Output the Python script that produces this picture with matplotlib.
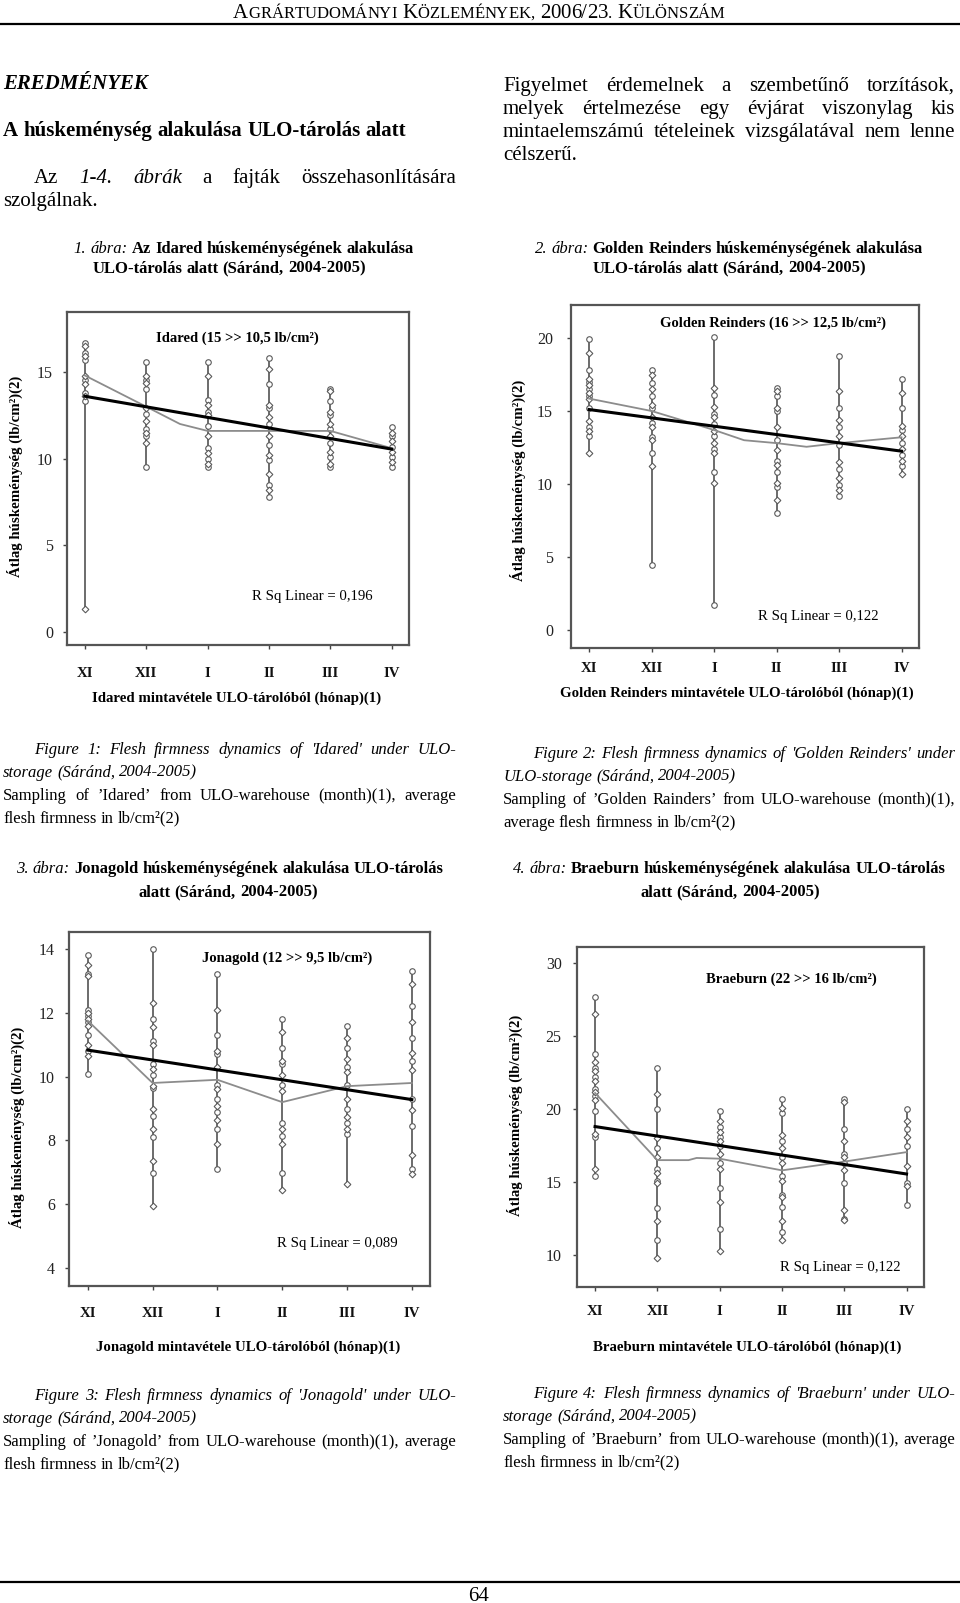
import matplotlib
matplotlib.use('Agg')
import matplotlib.pyplot as plt

W, H = 960, 1603
SERIF = 'Liberation Serif'
plt.rcParams['font.family'] = [SERIF, 'DejaVu Serif']

months = ['XI', 'XII', 'I', 'II', 'III', 'IV']

# Idared
idared_pts = [
    [16.7, 16.5, 16.1, 15.9, 15.7, 14.75, 14.55, 14.3, 13.8, 13.6, 13.3, 1.35],
    [15.6, 14.75, 14.55, 14.35, 14.0, 12.9, 12.6, 12.2, 11.7, 11.5, 11.3, 10.9, 9.5],
    [15.6, 14.75, 13.4, 13.1, 12.7, 12.5, 11.9, 11.3, 10.6, 10.3, 10.0, 9.7, 9.5],
    [15.8, 15.2, 14.3, 13.1, 12.9, 12.4, 12.0, 11.3, 10.8, 10.2, 9.9, 9.1, 8.5, 8.2, 7.8],
    [14.0, 13.9, 13.3, 12.7, 12.5, 12.0, 11.7, 11.3, 10.9, 10.4, 10.1, 9.7, 9.5],
    [11.85, 11.5, 11.3, 11.0, 10.7, 10.4, 10.1, 9.8, 9.5],
]
idared_trend = [13.6, 10.55]
idared_gray_x = [0, 1, 1.55, 2, 3, 4, 5]
idared_gray_y = [14.8, 13.0, 12.0, 11.6, 11.6, 11.6, 10.6]

# Golden Reinders
golden_pts = [
    [19.9, 19.0, 17.8, 17.2, 17.0, 16.8, 16.5, 16.2, 16.0, 15.8, 15.2, 14.3, 13.9, 13.6, 13.3, 12.1],
    [17.8, 17.5, 16.9, 16.5, 16.0, 15.4, 15.2, 14.6, 14.2, 13.9, 13.2, 13.0, 12.1, 11.2, 4.45],
    [20.1, 16.6, 16.1, 15.3, 14.8, 14.6, 14.1, 13.6, 13.3, 12.8, 12.4, 12.1, 10.8, 10.1, 1.7],
    [16.6, 16.4, 16.0, 15.2, 15.0, 13.9, 13.0, 12.3, 11.6, 11.3, 10.8, 10.1, 9.8, 8.9, 8.0],
    [18.8, 16.4, 15.2, 14.4, 13.9, 13.3, 12.7, 11.5, 11.0, 10.4, 9.9, 9.6, 9.2],
    [17.2, 16.2, 15.2, 14.0, 13.7, 13.3, 12.8, 12.4, 12.0, 11.6, 11.2, 10.7],
]
golden_trend = [15.1, 12.25]
golden_gray_x = [0, 1, 2, 2.48, 3, 3.48, 4, 5]
golden_gray_y = [15.85, 15.0, 13.7, 13.0, 12.8, 12.55, 12.8, 13.2]

# Jonagold
jona_pts = [
    [13.8, 13.5, 13.2, 13.15, 12.1, 12.0, 11.9, 11.8, 11.7, 11.6, 11.3, 11.0, 10.8, 10.65, 10.08],
    [14.0, 12.3, 11.8, 11.55, 11.1, 11.0, 10.4, 10.25, 10.05, 9.7, 9.65, 9.0, 8.76, 8.35, 8.1, 7.35, 6.97, 5.95],
    [13.2, 12.1, 11.3, 10.8, 10.7, 10.3, 9.75, 9.6, 9.3, 9.07, 8.9, 8.63, 8.37, 7.9, 7.1],
    [11.8, 11.4, 10.9, 10.5, 10.4, 10.05, 9.75, 9.55, 8.55, 8.35, 8.15, 7.9, 6.97, 6.46],
    [11.6, 11.2, 10.9, 10.55, 10.3, 10.15, 9.75, 9.3, 9.0, 8.75, 8.55, 8.35, 8.2, 6.65],
    [13.3, 12.9, 12.2, 11.7, 11.2, 10.75, 10.5, 10.2, 9.3, 8.95, 8.45, 7.55, 7.1, 6.95],
]
jona_trend = [10.83, 9.28]
jona_gray_x = [0, 1, 2, 3, 4, 5]
jona_gray_y = [11.75, 9.8, 9.9, 9.2, 9.7, 9.8]

# Braeburn
brae_pts = [
    [27.7, 26.5, 23.8, 23.2, 22.8, 22.6, 22.2, 21.9, 21.4, 21.2, 20.9, 20.6, 19.9, 18.3, 18.1, 15.9, 15.4],
    [22.8, 21.0, 20.0, 18.0, 17.3, 16.7, 15.9, 15.6, 15.1, 14.9, 13.2, 12.3, 11.0, 9.8],
    [19.9, 19.2, 18.8, 18.4, 18.1, 17.8, 17.5, 16.9, 16.3, 15.9, 14.6, 13.6, 11.8, 10.3],
    [20.7, 20.1, 19.7, 18.2, 17.8, 17.3, 16.7, 16.3, 15.4, 15.1, 14.1, 14.0, 13.3, 12.3, 11.6, 11.0],
    [20.7, 20.5, 18.6, 17.8, 16.9, 16.7, 16.3, 15.8, 14.9, 13.1, 12.5, 12.4],
    [20.0, 19.2, 18.6, 18.1, 17.5, 16.1, 14.9, 14.7, 13.4],
]
brae_trend = [18.8, 15.55]
brae_gray_x = [0, 1, 1.5, 1.63, 2, 3, 4, 5]
brae_gray_y = [21.1, 16.5, 16.5, 16.65, 16.6, 15.8, 16.4, 17.05]

fig = plt.figure(figsize=(W / 100, H / 100), dpi=100)
fig.patch.set_facecolor('white')
renderer = fig.canvas.get_renderer()


def kw(style, size):
    return dict(family=[SERIF, 'DejaVu Serif'], fontsize=size,
                fontstyle='italic' if 'i' in style else 'normal',
                fontweight='bold' if 'b' in style else 'normal', color='black')


def text_w(s, k):
    t = fig.text(0, 0, s, **k)
    w = t.get_window_extent(renderer).width
    t.remove()
    return w


def simple(s, style='r', size=12):
    return [[(w, style, size)] for w in s.split(' ')]


def draw_line(words, y, x0, x1=None, align='left'):
    size0 = words[0][0][2]
    widths = [[text_w(t, kw(st, z)) for t, st, z in w] for w in words]
    totals = [sum(ws) for ws in widths]
    n = len(words)
    if align == 'justify' and n > 1:
        gap = (x1 - x0 - sum(totals)) / (n - 1)
    else:
        gap = 0.25 * size0 * 100 / 72
    full = sum(totals) + gap * (n - 1)
    x = x0 - full / 2 if align == 'center' else x0
    base = y + 0.28 * size0 * 100 / 72
    for w, ws in zip(words, widths):
        for (t, st, z), wd in zip(w, ws):
            fig.text(x / W, 1 - base / H, t, ha='left', va='baseline', **kw(st, z))
            x += wd
        x += gap


def hline(y, x0=0, x1=W, lw=1.6):
    fig.add_artist(plt.Line2D([x0 / W, x1 / W], [1 - y / H, 1 - y / H], color='black', lw=lw))


# header in small caps
def smallcaps(word, big=15, small=12):
    segs = []
    for i, ch in enumerate(word):
        if (ch.isalpha() and i > 0) or ch in ',.':
            segs.append((ch, 'r', small))
        else:
            segs.append((ch, 'r', big))
    return segs


header = 'AGRÁRTUDOMÁNYI KÖZLEMÉNYEK, 2006/23. KÜLÖNSZÁM'
draw_line([smallcaps(w) for w in header.split(' ')], 12, 479, align='center')
hline(24)

# body text
draw_line(simple('EREDMÉNYEK', 'bi', 15), 83, 3)
draw_line(simple('A húskeménység alakulása ULO-tárolás alatt', 'b', 15), 130, 3)
draw_line([[('Az', 'r', 15)], [('1-4.', 'i', 15)], [('ábrák', 'i', 15)]] +
          simple('a fajták összehasonlítására', 'r', 15), 177, 34, 456, 'justify')
draw_line(simple('szolgálnak.', 'r', 15), 200, 3)

right_par = ['Figyelmet érdemelnek a szembetűnő torzítások,',
             'melyek értelmezése egy évjárat viszonylag kis',
             'mintaelemszámú tételeinek vizsgálatával nem lenne']
for i, s in enumerate(right_par):
    draw_line(simple(s, 'r', 15), 85 + 23 * i, 503, 955, 'justify')
draw_line(simple('célszerű.', 'r', 15), 154, 503)


def abra(num, bold_text, y, cx):
    words = [[(num, 'i', 12)], [('ábra:', 'i', 12)]] + simple(bold_text, 'b', 12)
    draw_line(words, y, cx, align='center')


abra('1.', 'Az Idared húskeménységének alakulása', 248, 244)
draw_line(simple('ULO-tárolás alatt (Sáránd, 2004-2005)', 'b', 12), 268, 229, align='center')
abra('2.', 'Golden Reinders húskeménységének alakulása', 248, 729)
draw_line(simple('ULO-tárolás alatt (Sáránd, 2004-2005)', 'b', 12), 268, 729, align='center')


def eng_caption(lines, y0, x0, x1, indent):
    l1, l2, l3, l4 = lines
    draw_line(simple(l1, 'i', 12), y0, x0 + indent, x1, 'justify')
    draw_line(simple(l2, 'i', 12), y0 + 23, x0)
    draw_line(simple(l3, 'r', 12), y0 + 46, x0, x1, 'justify')
    draw_line(simple(l4, 'r', 12), y0 + 69, x0)


eng_caption(["Figure 1: Flesh firmness dynamics of 'Idared' under ULO-",
             "storage (Sáránd, 2004-2005)",
             "Sampling of ’Idared’ from ULO-warehouse (month)(1), average",
             "flesh firmness in lb/cm²(2)"], 749, 3, 456, 31)
eng_caption(["Figure 2: Flesh firmness dynamics of 'Golden Reinders' under",
             "ULO-storage (Sáránd, 2004-2005)",
             "Sampling of ’Golden Rainders’ from ULO-warehouse (month)(1),",
             "average flesh firmness in lb/cm²(2)"], 753, 503, 955, 30)

abra('3.', 'Jonagold húskeménységének alakulása ULO-tárolás', 868, 230)
draw_line(simple('alatt (Sáránd, 2004-2005)', 'b', 12), 892, 228, align='center')
abra('4.', 'Braeburn húskeménységének alakulása ULO-tárolás', 868, 729)
draw_line(simple('alatt (Sáránd, 2004-2005)', 'b', 12), 892, 730, align='center')

eng_caption(["Figure 3: Flesh firmness dynamics of 'Jonagold' under ULO-",
             "storage (Sáránd, 2004-2005)",
             "Sampling of ’Jonagold’ from ULO-warehouse (month)(1), average",
             "flesh firmness in lb/cm²(2)"], 1395, 3, 456, 31)
eng_caption(["Figure 4: Flesh firmness dynamics of 'Braeburn' under ULO-",
             "storage (Sáránd, 2004-2005)",
             "Sampling of ’Braeburn’ from ULO-warehouse (month)(1), average",
             "flesh firmness in lb/cm²(2)"], 1393, 503, 955, 30)

hline(1582)
draw_line(simple('64', 'r', 15), 1595, 479, align='center')


def chart(box, pts, trend, gx, gy, ylim, yticks, xpad, ypad,
          title, tpos, rsq, rpos, xlab, xpos, ylab, ypos):
    l, t, r, b = box
    ax = fig.add_axes([l / W, 1 - b / H, (r - l) / W, (b - t) / H])
    for i, vals in enumerate(pts):
        ax.vlines(i, min(vals), max(vals), color='#444444', lw=1.1, zorder=2)
        ys_o = [v for j, v in enumerate(vals) if j % 2 == 0]
        ys_d = [v for j, v in enumerate(vals) if j % 2 == 1]
        ax.plot([i] * len(ys_o), ys_o, 'o', ms=4.0, mfc='white', mec='#5a5a5a', mew=0.8, zorder=3)
        ax.plot([i] * len(ys_d), ys_d, 'D', ms=3.4, mfc='white', mec='#5a5a5a', mew=0.8, zorder=3)
    ax.plot(gx, gy, color='#8c8c8c', lw=1.3, zorder=4)
    ax.plot([0, 5], trend, color='black', lw=2.2, zorder=5)
    ax.set_xlim(-0.29, 5.28)
    ax.set_ylim(*ylim)
    ax.set_xticks(range(6))
    ax.set_xticklabels(months, fontweight='bold', fontsize=10.7)
    ax.set_yticks(yticks)
    ax.set_yticklabels([str(v) for v in yticks], fontsize=11.5)
    ax.tick_params(axis='x', length=3, width=1, color='#444444', pad=xpad, labelcolor='#111111')
    ax.tick_params(axis='y', length=3, width=1, color='#444444', pad=ypad, labelcolor='#222222')
    for s in ax.spines.values():
        s.set_color('#555555')
        s.set_linewidth(1.6)
    fig.text(tpos[0] / W, 1 - tpos[1] / H, title, ha='center', va='center',
             fontsize=10.5, fontweight='bold')
    fig.text(rpos[0] / W, 1 - rpos[1] / H, rsq, ha='center', va='center', fontsize=10.6)
    fig.text(xpos[0] / W, 1 - xpos[1] / H, xlab, ha='center', va='center',
             fontsize=10.7, fontweight='bold')
    fig.text(ypos[0] / W, 1 - ypos[1] / H, ylab, ha='center', va='center',
             fontsize=10.7, fontweight='bold', rotation=90)


ylab = 'Átlag húskeménység (lb/cm²)(2)'
chart((67, 312, 409, 645), idared_pts, idared_trend, idared_gray_x, idared_gray_y,
      (-0.75, 18.46), [0, 5, 10, 15], 13, 7,
      'Idared (15 >> 10,5 lb/cm²)', (237, 338), 'R Sq Linear = 0,196', (312, 597),
      'Idared mintavétele ULO-tárolóból (hónap)(1)', (237, 698), ylab, (15, 476))
chart((571, 305, 919, 648), golden_pts, golden_trend, golden_gray_x, golden_gray_y,
      (-1.23, 22.26), [0, 5, 10, 15, 20], 7, 10,
      'Golden Reinders (16 >> 12,5 lb/cm²)', (773, 323), 'R Sq Linear = 0,122', (818, 617),
      'Golden Reinders mintavétele ULO-tárolóból (hónap)(1)', (737, 693), ylab, (518, 480))
chart((69, 932, 430, 1286), jona_pts, jona_trend, jona_gray_x, jona_gray_y,
      (3.44, 14.53), [4, 6, 8, 10, 12, 14], 12, 7,
      'Jonagold (12 >> 9,5 lb/cm²)', (287, 958), 'R Sq Linear = 0,089', (337, 1243),
      'Jonagold mintavétele ULO-tárolóból (hónap)(1)', (248, 1347), ylab, (17, 1127))
chart((577, 947, 924, 1287), brae_pts, brae_trend, brae_gray_x, brae_gray_y,
      (7.81, 31.1), [10, 15, 20, 25, 30], 10, 8,
      'Braeburn (22 >> 16 lb/cm²)', (791, 979), 'R Sq Linear = 0,122', (840, 1268),
      'Braeburn mintavétele ULO-tárolóból (hónap)(1)', (747, 1347), ylab, (515, 1115))

fig.savefig('out.png', dpi=100, facecolor='white')
